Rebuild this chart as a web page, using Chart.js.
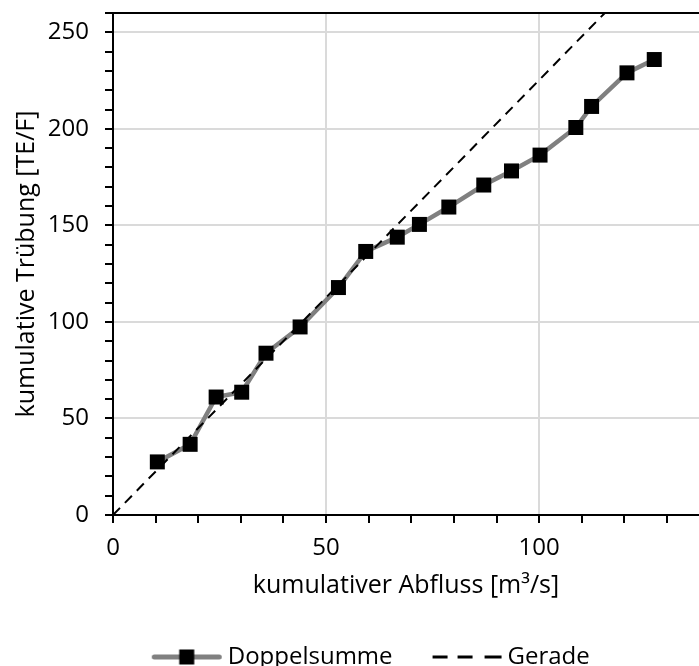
<!DOCTYPE html>
<html>
<head>
<meta charset="utf-8">
<script src="https://cdn.jsdelivr.net/npm/chart.js@4"></script>
<style>
html,body{margin:0;padding:0;background:#fff;}
#wrap{width:699px;height:666px;position:relative;}
</style>
</head>
<body>
<div id="wrap"><canvas id="c"></canvas></div>
<script>
// Data
const abfluss = [10.4, 18.1, 24.2, 30.2, 35.9, 43.9, 52.9, 59.3, 66.7, 71.9, 78.8, 87.0, 93.5, 100.2, 108.6, 112.3, 120.6, 127.0];
const truebung = [27.5, 36.6, 61.1, 63.6, 83.8, 97.4, 117.8, 136.5, 143.9, 150.5, 159.5, 170.9, 178.2, 186.4, 200.7, 211.6, 229.0, 235.9];
const geradeX = [0, 115.4];
const geradeY = [0, 260];
const seriesNames = ["Doppelsumme", "Gerade"];
const xTitle = "kumulativer Abfluss [m³/s]";
const yTitle = "kumulative Trübung [TE/F]";

const FONT = "'Open Sans', 'Noto Sans', sans-serif";
Chart.defaults.font.family = FONT;
Chart.defaults.font.size = 24;
Chart.defaults.color = '#000';

// legend symbols
function legendLineMarker(){
  const c = document.createElement('canvas'); c.width = 80; c.height = 18;
  const g = c.getContext('2d');
  g.strokeStyle = '#808080'; g.lineWidth = 5; g.lineCap = 'round';
  g.beginPath(); g.moveTo(10.5, 9); g.lineTo(75.5, 9); g.stroke();
  g.fillStyle = '#000'; g.fillRect(43 - 7.5, 9 - 7.5, 15, 15);
  return c;
}
function legendDash(){
  const c = document.createElement('canvas'); c.width = 80; c.height = 18;
  const g = c.getContext('2d');
  g.strokeStyle = '#000'; g.lineWidth = 3;
  [[9, 24], [34, 49], [61, 78]].forEach(([a, b]) => {
    g.beginPath(); g.moveTo(a, 9); g.lineTo(b, 9); g.stroke();
  });
  return c;
}
const legendImgs = [legendLineMarker(), legendDash()];
const legendShift = 15.5;

const pts = abfluss.map((x, i) => ({x: x, y: truebung[i]}));
const gpts = geradeX.map((x, i) => ({x: x, y: geradeY[i]}));

const shiftLegend = {
  id: 'shiftLegend',
  afterLayout(chart) {
    if (chart.legend) { chart.legend.left += legendShift; chart.legend.right += legendShift; }
  }
};

new Chart(document.getElementById('c'), {
  type: 'scatter',
  data: {
    datasets: [
      {
        label: seriesNames[0], data: pts, showLine: true,
        borderColor: '#808080', borderWidth: 4.5,
        pointStyle: 'rect', pointRadius: 10.6, pointBackgroundColor: '#000',
        pointBorderColor: '#000', pointBorderWidth: 0, order: 2
      },
      {
        label: seriesNames[1], data: gpts, showLine: true,
        borderColor: '#000', borderWidth: 2, borderDash: [10, 7],
        pointRadius: 0, order: 1
      }
    ]
  },
  plugins: [shiftLegend],
  options: {
    responsive: true, maintainAspectRatio: false, animation: false,
    layout: {autoPadding: false, padding: {top: 13, right: 0, left: 11.5, bottom: -13}},
    plugins: {
      tooltip: {enabled: false},
      legend: {
        position: 'bottom',
        labels: {
          usePointStyle: true, pointStyleWidth: 64, padding: 39,
          font: {size: 24, family: FONT},
          generateLabels: (chart) => chart.data.datasets.map((d, i) => ({
            text: d.label, pointStyle: legendImgs[i], datasetIndex: i,
            fillStyle: 'transparent', strokeStyle: 'transparent', lineWidth: 0
          }))
        }
      }
    },
    scales: {
      x: {
        type: 'linear', min: 0, max: 137.5,
        afterFit: (s) => { s.paddingLeft = 0; s.paddingRight = 0; s.height = 91; },
        border: {color: '#000', width: 2},
        grid: {
          color: (c) => (c.tick && c.tick.value % 50 === 0 && c.tick.value > 0) ? '#dadada' : 'rgba(0,0,0,0)',
          lineWidth: 2, tickColor: '#000', tickWidth: 2, tickLength: 8
        },
        ticks: {
          stepSize: 10, includeBounds: false, padding: 11, maxRotation: 0, autoSkip: false,
          font: {size: 24},
          callback: (v) => (v % 50 === 0 ? String(v) : '')
        },
        title: {display: true, text: xTitle, font: {size: 25}, padding: {top: 5, bottom: 5}}
      },
      y: {
        type: 'linear', min: 0, max: 260,
        afterFit: (s) => { s.paddingTop = 0; s.paddingBottom = 0; s.width = 101.5; },
        border: {color: '#000', width: 2},
        grid: {
          color: (c) => {
            if (!c.tick) return 'rgba(0,0,0,0)';
            if (c.tick.value === 260) return '#000';
            return (c.tick.value % 50 === 0 && c.tick.value > 0) ? '#dadada' : 'rgba(0,0,0,0)';
          },
          lineWidth: 2, tickColor: '#000', tickWidth: 2, tickLength: 8
        },
        ticks: {
          stepSize: 10, padding: 16, autoSkip: false,
          font: {size: 24},
          callback: (v) => (v % 50 === 0 ? String(v) : '')
        },
        title: {display: true, text: yTitle, font: {size: 25}, padding: {top: 0, bottom: 6}}
      }
    }
  }
});
</script>
</body>
</html>
